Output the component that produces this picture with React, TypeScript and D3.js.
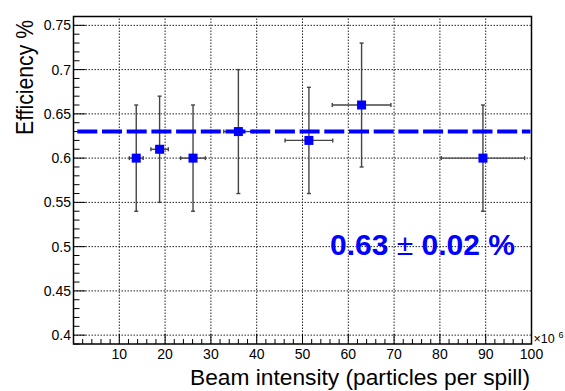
import React from "react";
import * as d3 from "d3";

const xValues = [13.7, 18.8, 26.1, 36.0, 51.4, 62.9, 89.4];
const yValues = [0.60, 0.61, 0.60, 0.63, 0.62, 0.66, 0.60];
const xErrors = [1.5, 1.9, 2.7, 3.2, 5.2, 6.4, 9.1];
const yErrors = [0.06, 0.06, 0.06, 0.07, 0.06, 0.07, 0.06];
const fitValue = 0.63;
const fitLabelMain = "0.63";
const fitLabelErr = "0.02";
const xTicks = [10, 20, 30, 40, 50, 60, 70, 80, 90, 100];
const yTicks = [0.4, 0.45, 0.5, 0.55, 0.6, 0.65, 0.7, 0.75];
const xTitle = "Beam intensity (particles per spill)";
const yTitle = "Efficiency %";

const W = 565;
const H = 391;
const L = 73.5, R = 531.5, T = 16.5, B = 344;

export default function App() {
  const x = d3.scaleLinear().domain([0, 100]).range([L, R]);
  const y = d3.scaleLinear().domain([0.39, 0.76]).range([B, T]);
  const xMinor = d3.range(0, 101, 2);
  const yMinor = d3.range(39, 77, 1).map((v) => v / 100);
  const font = "'Liberation Sans', Arial, Helvetica, sans-serif";
  const errColor = "#444";
  const cap = 2;
  const ms = 9;

  return (
    <svg
      width={W}
      height={H}
      style={{ position: "absolute", left: 0, top: 0, background: "#fff" }}
      fontFamily={font}
    >
      <rect x={0} y={0} width={W} height={H} fill="#fff" />
      {/* grid */}
      {xTicks.filter((t) => t < 100).map((t) => (
        <line key={"gx" + t} x1={x(t)} x2={x(t)} y1={B} y2={T} stroke="#222" strokeWidth={1} strokeDasharray="1.5,1.5" />
      ))}
      {yTicks.map((t) => (
        <line key={"gy" + t} x1={L} x2={R} y1={y(t)} y2={y(t)} stroke="#222" strokeWidth={1} strokeDasharray="1.5,1.5" />
      ))}
      {/* frame */}
      <rect x={L} y={T} width={R - L} height={B - T} fill="none" stroke="#000" strokeWidth={1.5} />
      {/* y ticks */}
      {yMinor.map((t) => {
        const major = Math.abs(Math.round(t * 100) % 5) === 0;
        return (
          <line key={"yt" + t} x1={L} x2={L + (major ? 12 : 6)} y1={y(t)} y2={y(t)} stroke="#000" strokeWidth={1} />
        );
      })}
      {/* x ticks */}
      {xMinor.map((t) => {
        const major = t % 10 === 0;
        return (
          <line key={"xt" + t} x1={x(t)} x2={x(t)} y1={B} y2={B - (major ? 10 : 5)} stroke="#000" strokeWidth={1} />
        );
      })}
      {/* y tick labels */}
      {yTicks.map((t) => (
        <text key={"yl" + t} x={71} y={y(t)} dy="0.36em" textAnchor="end" fontSize={14} fill="#000">
          {d3.format("")(+t.toFixed(2))}
        </text>
      ))}
      {/* x tick labels */}
      {xTicks.map((t) => (
        <text key={"xl" + t} x={x(t)} y={358.5} textAnchor="middle" fontSize={14} fill="#000">
          {t}
        </text>
      ))}
      <text x={533.5} y={343} fontSize={12.5} fill="#000">
        ×10
      </text>
      <text x={558.5} y={337.5} fontSize={9} fill="#000">
        6
      </text>
      {/* titles */}
      <text x={530} y={385} textAnchor="end" fontSize={22.5} fill="#000" textLength={340} lengthAdjust="spacingAndGlyphs">
        {xTitle}
      </text>
      <text transform={`translate(33,20) rotate(-90)`} textAnchor="end" fontSize={24} fill="#000" textLength={115} lengthAdjust="spacingAndGlyphs">
        {yTitle}
      </text>
      {/* error bars */}
      {xValues.map((xv, i) => {
        const cx = x(xv), cy = y(yValues[i]);
        const x0 = x(xv - xErrors[i]), x1 = x(xv + xErrors[i]);
        const y0 = y(yValues[i] - yErrors[i]), y1 = y(yValues[i] + yErrors[i]);
        return (
          <g key={"eb" + i} stroke={errColor} strokeWidth={1.4}>
            <line x1={cx} x2={cx} y1={y0} y2={y1} />
            <line x1={x0} x2={x1} y1={cy} y2={cy} />
            <line x1={cx - cap} x2={cx + cap} y1={y0} y2={y0} />
            <line x1={cx - cap} x2={cx + cap} y1={y1} y2={y1} />
            <line x1={x0} x2={x0} y1={cy - cap} y2={cy + cap} />
            <line x1={x1} x2={x1} y1={cy - cap} y2={cy + cap} />
          </g>
        );
      })}
      {/* fit line */}
      <line x1={L} x2={R - 1} y1={y(fitValue)} y2={y(fitValue)} stroke="#0000ff" strokeWidth={4} strokeDasharray="20,4.7" strokeDashoffset={20.9} />
      {/* markers */}
      {xValues.map((xv, i) => (
        <rect key={"m" + i} x={x(xv) - ms / 2} y={y(yValues[i]) - ms / 2} width={ms} height={ms} fill="#0000ff" />
      ))}
      {/* fit label */}
      <text x={330} y={254.5} fontSize={30} fill="#0000ff" fontWeight="bold">
        <tspan>{fitLabelMain + " "}</tspan>
        <tspan fontWeight="normal">±</tspan>
        <tspan>{" " + fitLabelErr + " %"}</tspan>
      </text>
    </svg>
  );
}
